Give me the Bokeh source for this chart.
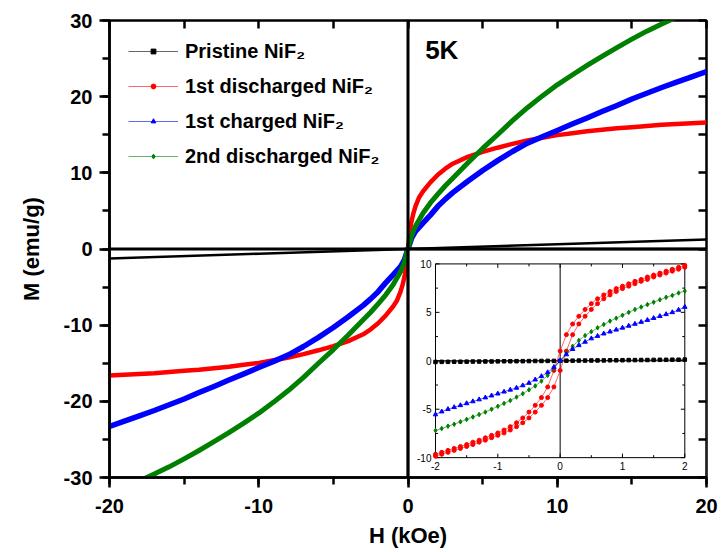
from bokeh.plotting import figure
from bokeh.models import (Range1d, LinearAxis, SingleIntervalTicker, Span, Legend,
                          LegendItem, Label, CustomJSTickFormatter)
from bokeh.embed import file_html
from bokeh.resources import INLINE
from bokeh.core.properties import value

FONT = "Liberation Sans"

# ---------------- main panel data (H in kOe, M in emu/g) ----------------
H_PRISTINE = [-20, -10, 0, 10, 20]
M_PRISTINE = [-1.25, -0.62, 0.0, 0.62, 1.25]

H_DIS1 = [-20, -19, -18, -17, -16, -15, -14, -13, -12, -11, -10, -9, -8, -7, -6, -5, -4, -3, -2.5, -2,
          -1.5, -1, -0.75, -0.5, -0.35, -0.2, -0.1,
          0, 0.1, 0.2, 0.35, 0.5, 0.75, 1, 1.5, 2, 2.5, 3, 4, 5, 6, 7, 8, 9, 10, 11, 12, 13, 14, 15,
          16, 17, 18, 19, 20]
M_DIS1 = [-16.6, -16.5, -16.4, -16.3, -16.15, -16.0, -15.85, -15.65, -15.45, -15.2, -14.95, -14.6,
          -14.25, -13.8, -13.3, -12.75, -12.1, -11.2, -10.55, -9.75, -8.75, -7.55, -6.8, -5.6, -4.6,
          -3.3, -2.0,
          0.0, 2.0, 3.3, 4.6, 5.6, 6.8, 7.55, 8.75, 9.75, 10.55, 11.2, 12.1, 12.75, 13.3, 13.8, 14.25,
          14.6, 14.95, 15.2, 15.45, 15.65, 15.85, 16.0, 16.15, 16.3, 16.4, 16.5, 16.6]

H_CH1 = [-20, -19, -18, -17, -16, -15, -14, -13, -12, -11, -10, -9, -8, -7, -6, -5, -4, -3, -2.5, -2,
         -1.5, -1, -0.5, -0.25,
         0, 0.25, 0.5, 1, 1.5, 2, 2.5, 3, 4, 5, 6, 7, 8, 9, 10, 11, 12, 13, 14, 15, 16, 17, 18, 19, 20]
M_CH1 = [-23.3, -22.6, -21.9, -21.2, -20.45, -19.7, -18.85, -18.05, -17.2, -16.4, -15.55, -14.75,
         -13.9, -12.8, -11.6, -10.3, -8.9, -7.4, -6.55, -5.6, -4.45, -3.4, -2.3, -1.45,
         0.0, 1.45, 2.3, 3.4, 4.45, 5.6, 6.55, 7.4, 8.9, 10.3, 11.6, 12.8, 13.9, 14.75, 15.55, 16.4,
         17.2, 18.05, 18.85, 19.7, 20.45, 21.2, 21.9, 22.6, 23.3]

H_DIS2 = [-20, -19, -18, -17, -16, -15, -14, -13, -12, -11, -10, -9, -8, -7, -6, -5, -4, -3, -2.5, -2,
          -1.5, -1, -0.5, -0.25,
          0, 0.25, 0.5, 1, 1.5, 2, 2.5, 3, 4, 5, 6, 7, 8, 9, 10, 11, 12, 13, 14, 15, 16, 17, 18, 19, 20]
M_DIS2 = [-32.1, -31.3, -30.45, -29.55, -28.6, -27.55, -26.45, -25.3, -24.1, -22.85, -21.55, -20.1,
          -18.55, -16.85, -15.0, -13.2, -11.3, -9.3, -8.3, -7.2, -6.05, -4.7, -3.0, -1.8,
          0.0, 1.8, 3.0, 4.7, 6.05, 7.2, 8.3, 9.3, 11.3, 13.2, 15.0, 16.85, 18.55, 20.1, 21.55, 22.85,
          24.1, 25.3, 26.45, 27.55, 28.6, 29.55, 30.45, 31.3, 32.1]

# ---------------- inset data (low-field loops) ----------------
INSET_H = [-2.0, -1.9, -1.8, -1.7, -1.6, -1.5, -1.4, -1.3, -1.2, -1.1, -1.0, -0.9, -0.8, -0.7, -0.6,
           -0.5, -0.4, -0.3, -0.2, -0.1, 0.0, 0.1, 0.2, 0.3, 0.4, 0.5, 0.6, 0.7, 0.8, 0.9, 1.0, 1.1,
           1.2, 1.3, 1.4, 1.5, 1.6, 1.7, 1.8, 1.9, 2.0]
INSET_H_DOWN = INSET_H[::-1]
IN_PRISTINE = [-0.12, -0.11, -0.11, -0.10, -0.10, -0.09, -0.08, -0.08, -0.07, -0.07, -0.06, -0.05,
               -0.05, -0.04, -0.04, -0.03, -0.02, -0.02, -0.01, -0.01, 0.0, 0.01, 0.01, 0.02, 0.02,
               0.03, 0.04, 0.04, 0.05, 0.05, 0.06, 0.07, 0.07, 0.08, 0.08, 0.09, 0.10, 0.10, 0.11,
               0.11, 0.12]
# 1st discharged: descending branch (H from +2 to -2) and ascending branch (H from -2 to +2)
IN_DIS1_DOWN = [9.85, 9.65, 9.45, 9.25, 9.05, 8.85, 8.65, 8.4, 8.2, 7.95, 7.7, 7.45, 7.15, 6.8, 6.4,
                5.9, 5.3, 4.6, 3.8, 2.7, 1.0, -1.0, -2.7, -3.8, -4.6, -5.3, -5.9, -6.4, -6.8, -7.15,
                -7.45, -7.7, -7.95, -8.2, -8.4, -8.65, -8.85, -9.05, -9.25, -9.45, -9.65]
IN_DIS1_UP = [-9.85, -9.65, -9.45, -9.25, -9.05, -8.85, -8.65, -8.4, -8.2, -7.95, -7.7, -7.45, -7.15,
              -6.8, -6.4, -5.9, -5.3, -4.6, -3.8, -2.7, -1.0, 1.0, 2.7, 3.8, 4.6, 5.3, 5.9, 6.4, 6.8,
              7.15, 7.45, 7.7, 7.95, 8.2, 8.4, 8.65, 8.85, 9.05, 9.25, 9.45, 9.65]
IN_CH1 = [-5.55, -5.25, -5.0, -4.8, -4.6, -4.4, -4.2, -4.0, -3.8, -3.6, -3.4, -3.2, -3.0, -2.8, -2.55,
          -2.3, -1.95, -1.6, -1.2, -0.65, 0.0, 0.65, 1.2, 1.6, 1.95, 2.3, 2.55, 2.8, 3.0, 3.2, 3.4,
          3.6, 3.8, 4.0, 4.2, 4.4, 4.6, 4.8, 5.0, 5.25, 5.55]
IN_DIS2 = [-7.2, -7.0, -6.75, -6.55, -6.3, -6.05, -5.8, -5.55, -5.3, -5.0, -4.7, -4.4, -4.1, -3.75,
           -3.4, -3.0, -2.6, -2.1, -1.5, -0.8, 0.0, 0.8, 1.5, 2.1, 2.6, 3.0, 3.4, 3.75, 4.1, 4.4, 4.7,
           5.0, 5.3, 5.55, 5.8, 6.05, 6.3, 6.55, 6.75, 7.0, 7.2]

INSET_XTICKS = [-2, -1, 0, 1, 2]
INSET_XMINOR = [-1.5, -0.5, 0.5, 1.5]
INSET_YTICKS = [-10, -5, 0, 5, 10]
INSET_YMINOR = [-7.5, -2.5, 2.5, 7.5]

LABELS = ["Pristine NiF\u2082", "1st discharged NiF\u2082", "1st charged NiF\u2082",
          "2nd discharged NiF\u2082"]
COLORS = ["black", "#ff0000", "#0000ff", "#008000"]
MARKERS = ["square", "circle", "triangle", "diamond"]

# ---------------- figure ----------------
p = figure(width=720, height=550, x_range=Range1d(-20, 20), y_range=Range1d(-30, 30),
           output_backend="svg", toolbar_location=None,
           min_border_left=109, min_border_right=14, min_border_top=20, min_border_bottom=70,
           x_axis_label="H (kOe)", y_axis_label="M (emu/g)")
p.xgrid.visible = False
p.ygrid.visible = False
p.outline_line_color = "black"
p.outline_line_width = 2.5
p.outline_line_alpha = 1.0

plain = CustomJSTickFormatter(code="return tick.toString();")
for ax in (p.xaxis[0], p.yaxis[0]):
    ax.ticker = SingleIntervalTicker(interval=10, num_minor_ticks=2)
    ax.formatter = plain
    ax.axis_line_width = 2.5
    ax.major_tick_line_width = 2.5
    ax.minor_tick_line_width = 2.5
    ax.major_tick_out = 10
    ax.major_tick_in = 0
    ax.minor_tick_out = 7
    ax.minor_tick_in = 0
    ax.major_label_text_font = FONT
    ax.major_label_text_font_style = "bold"
    ax.major_label_text_font_size = "20px"
    ax.major_label_text_color = "black"
    ax.axis_label_text_font = FONT
    ax.axis_label_text_font_style = "bold"
    ax.axis_label_text_font_size = "22px"
    ax.axis_label_text_color = "black"
p.xaxis[0].major_label_standoff = 11
p.yaxis[0].major_label_standoff = 7
p.xaxis[0].axis_label_standoff = 7
p.yaxis[0].axis_label_standoff = 17

blank = CustomJSTickFormatter(code="return '';")
for place in ("above", "right"):
    mirror = LinearAxis(ticker=SingleIntervalTicker(interval=5, num_minor_ticks=0),
                        formatter=blank,
                        major_tick_in=8, major_tick_out=0, minor_tick_in=0, minor_tick_out=0,
                        major_tick_line_width=2.5, axis_line_color=None, major_label_standoff=0)
    p.add_layout(mirror, place)

# main curves
p.line(H_PRISTINE, M_PRISTINE, line_color=COLORS[0], line_width=2.5)
p.line(H_DIS1, M_DIS1, line_color=COLORS[1], line_width=4.5, line_join="round")
p.line(H_CH1, M_CH1, line_color=COLORS[2], line_width=5.5, line_join="round")
p.line(H_DIS2, M_DIS2, line_color=COLORS[3], line_width=5, line_join="round")

# zero lines of main panel
p.add_layout(Span(location=0, dimension="width", line_color="black", line_width=3))
p.add_layout(Span(location=0, dimension="height", line_color="black", line_width=3))

# "5K" label
p.add_layout(Label(x=1.15, y=26.1, text="5K", text_font=FONT, text_font_style="bold",
                   text_font_size="26px", text_baseline="middle", text_color="black"))

# ---------------- inset (lower-right quadrant) ----------------
p.quad(left=0, right=20, bottom=-30, top=0, fill_color="white", line_color="black", line_width=2.5)

p.extra_x_ranges = {"ix": Range1d(-7.230, 2.348)}
p.extra_y_ranges = {"iy": Range1d(-12.05, 35.13)}
IN = dict(x_range_name="ix", y_range_name="iy")

p.quad(left=-2, right=2, bottom=-10, top=10, fill_color=None, line_color="black", line_width=1, **IN)
p.segment(x0=[0, -2], y0=[-10, 0], x1=[0, 2], y1=[10, 0], line_color="black", line_width=1, **IN)

# inset ticks (inward)
tx = 1 / 62.33  # inset x units per pixel
ty = 1 / 9.75   # inset y units per pixel
for vals, ln in ((INSET_XTICKS, 4), (INSET_XMINOR, 2.5)):
    p.segment(x0=vals, y0=[-10] * len(vals), x1=vals, y1=[-10 + ln * ty] * len(vals),
              line_color="black", line_width=1, **IN)
    p.segment(x0=vals, y0=[10] * len(vals), x1=vals, y1=[10 - ln * ty] * len(vals),
              line_color="black", line_width=1, **IN)
for vals, ln in ((INSET_YTICKS, 4), (INSET_YMINOR, 2.5)):
    p.segment(x0=[-2] * len(vals), y0=vals, x1=[-2 + ln * tx] * len(vals), y1=vals,
              line_color="black", line_width=1, **IN)
    p.segment(x0=[2] * len(vals), y0=vals, x1=[2 - ln * tx] * len(vals), y1=vals,
              line_color="black", line_width=1, **IN)

p.text(x=INSET_XTICKS, y=[-10] * 5, text=[str(v) for v in INSET_XTICKS], y_offset=4,
       text_font=value(FONT), text_font_size="10px", text_align="center", text_baseline="top",
       text_color="black", **IN)
p.text(x=[-2] * 5, y=INSET_YTICKS, text=[str(v) for v in INSET_YTICKS], x_offset=-4,
       text_font=value(FONT), text_font_size="10px", text_align="right", text_baseline="middle",
       text_color="black", **IN)

# inset curves (also used as legend glyphs)
inset_series = [
    (INSET_H, IN_PRISTINE, 0, 3.5),
    (INSET_H_DOWN, IN_DIS1_DOWN, 1, 4),
    (INSET_H, IN_DIS1_UP, 1, 4),
    (INSET_H, IN_DIS2, 3, 4.5),
    (INSET_H, IN_CH1, 2, 4.5),
]
legend_rends = {}
for hx, my, k, sz in inset_series:
    lr = p.line(hx, my, line_color=COLORS[k], line_width=1, line_alpha=0.6, **IN)
    sr = p.scatter(hx, my, marker=MARKERS[k], size=sz, fill_color=COLORS[k], line_color=COLORS[k], **IN)
    legend_rends.setdefault(k, [lr, sr])

# ---------------- legend ----------------
items = [LegendItem(label=LABELS[k], renderers=legend_rends[k]) for k in range(4)]
legend = Legend(items=items, location="top_left", margin=19, padding=0, spacing=11,
                glyph_width=50, glyph_height=12, label_height=24, label_standoff=7,
                label_text_font=FONT, label_text_font_style="bold", label_text_font_size="20px",
                label_text_color="black", background_fill_alpha=0, border_line_color=None)
p.add_layout(legend)

open("out.html", "w").write(file_html(p, INLINE))
